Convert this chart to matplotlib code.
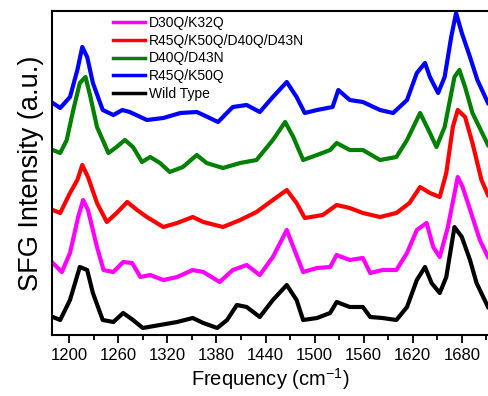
import numpy as np
import matplotlib.pyplot as plt

plt.rcParams['font.family'] = ['Liberation Sans', 'DejaVu Sans']

# spettri (offset gia' inclusi, unita' arbitrarie)
f_wt = [1180, 1189, 1201, 1213, 1222, 1229, 1241, 1254, 1266, 1278, 1290, 1311, 1332, 1351,
        1364, 1381, 1393, 1405, 1417, 1433, 1449, 1466, 1478, 1486, 1503, 1519, 1527, 1543,
        1559, 1568, 1583, 1600, 1613, 1625, 1635, 1643, 1653, 1661, 1671, 1680, 1690, 1698, 1712]
y_wt = [18, 15, 35, 68, 65, 42, 15, 13, 22, 15, 7, 10, 13, 17,
        12, 7, 15, 30, 28, 18, 35, 50, 35, 15, 17, 22, 33, 28,
        28, 18, 17, 15, 28, 55, 68, 52, 42, 58, 108, 98, 75, 52, 28]

f_d30 = [1180, 1191, 1201, 1211, 1217, 1223, 1234, 1242, 1254, 1266, 1277, 1287, 1299, 1315,
         1332, 1351, 1364, 1384, 1400, 1417, 1433, 1449, 1466, 1474, 1486, 1503, 1519, 1527,
         1543, 1559, 1568, 1583, 1600, 1613, 1625, 1637, 1645, 1653, 1663, 1675, 1681, 1693,
         1702, 1712]
y_d30 = [72, 63, 82, 118, 135, 125, 88, 65, 63, 73, 72, 58, 60, 55,
         58, 65, 63, 53, 65, 70, 60, 78, 105, 88, 63, 67, 68, 80,
         75, 77, 62, 65, 65, 82, 105, 112, 88, 78, 108, 158, 148, 118,
         95, 78]

f_r45d40 = [1180, 1189, 1201, 1210, 1216, 1223, 1234, 1246, 1258, 1271, 1283, 1295, 1315, 1332,
            1351, 1364, 1388, 1409, 1429, 1449, 1466, 1478, 1488, 1510, 1527, 1543, 1559, 1580,
            1600, 1616, 1629, 1641, 1653, 1661, 1669, 1675, 1684, 1693, 1704, 1712]
y_r45d40 = [125, 122, 142, 155, 170, 158, 132, 113, 122, 133, 125, 118, 108, 112,
            118, 113, 108, 115, 123, 135, 145, 132, 117, 120, 130, 127, 122, 118,
            122, 132, 148, 142, 138, 162, 208, 225, 218, 192, 155, 140]

f_d40 = [1180, 1189, 1197, 1205, 1213, 1220, 1226, 1234, 1248, 1258, 1268, 1278, 1289, 1299,
         1311, 1323, 1339, 1356, 1368, 1388, 1409, 1429, 1449, 1464, 1474, 1486, 1503, 1519,
         1527, 1543, 1559, 1580, 1600, 1613, 1629, 1641, 1649, 1659, 1671, 1677, 1684, 1693, 1712]
y_d40 = [185, 182, 195, 225, 252, 258, 238, 208, 182, 188, 195, 188, 173, 178,
         172, 163, 168, 180, 172, 167, 172, 175, 195, 213, 198, 175, 180, 185,
         192, 185, 185, 175, 178, 195, 222, 202, 188, 208, 258, 265, 248, 222, 190]

f_r45 = [1180, 1189, 1201, 1210, 1216, 1222, 1229, 1241, 1254, 1265, 1274, 1295, 1315, 1336,
         1356, 1364, 1382, 1400, 1417, 1433, 1449, 1466, 1478, 1488, 1503, 1522, 1529, 1543,
         1559, 1580, 1596, 1613, 1625, 1635, 1641, 1651, 1659, 1667, 1673, 1680, 1690, 1699, 1712]
y_r45 = [232, 227, 238, 265, 288, 278, 252, 225, 220, 225, 223, 215, 217, 222,
         223, 220, 213, 228, 230, 223, 238, 253, 238, 222, 225, 228, 245, 235,
         233, 225, 222, 235, 262, 272, 258, 242, 258, 298, 322, 302, 278, 255, 232]

series = [
    (f_d30, y_d30, "#ff00ff", "D30Q/K32Q"),
    (f_r45d40, y_r45d40, "#ff0000", "R45Q/K50Q/D40Q/D43N"),
    (f_d40, y_d40, "#008000", "D40Q/D43N"),
    (f_r45, y_r45, "#0000ff", "R45Q/K50Q"),
    (f_wt, y_wt, "#000000", "Wild Type"),
]

fig = plt.figure(figsize=(4.88, 3.96), dpi=100)
ax = fig.add_axes([52 / 488, 61 / 396, 436 / 488, 324 / 396])

for f, y, c, lab in series:
    ax.plot(f, y, color=c, lw=3, label=lab)

ax.set_xlim(1179, 1712)
ax.set_ylim(0, 324)
ax.set_xticks(np.arange(1200, 1700, 60))
ax.set_xticks(np.arange(1230, 1712, 60), minor=True)
ax.set_yticks([])
ax.tick_params(axis="x", which="major", direction="out", length=6, width=1.3, labelsize=12)
ax.tick_params(axis="x", which="minor", direction="out", length=3.5, width=1.3)
for s in ["left", "bottom", "top"]:
    ax.spines[s].set_linewidth(1.5)
ax.spines["right"].set_visible(False)

ax.set_xlabel(r"Frequency (cm$^{\mathregular{-1}}$)", fontsize=14.5, labelpad=2)
ax.set_ylabel("SFG Intensity (a.u.)", fontsize=19.5, labelpad=6)

leg = ax.legend(loc="upper left", bbox_to_anchor=(0.14, 0.984), frameon=False, fontsize=10,
                handlelength=2.3, handletextpad=0.3, labelspacing=0.26,
                borderaxespad=0, borderpad=0)
for h in leg.get_lines():
    h.set_linewidth(2.5)

fig.savefig("out.png", dpi=100)
